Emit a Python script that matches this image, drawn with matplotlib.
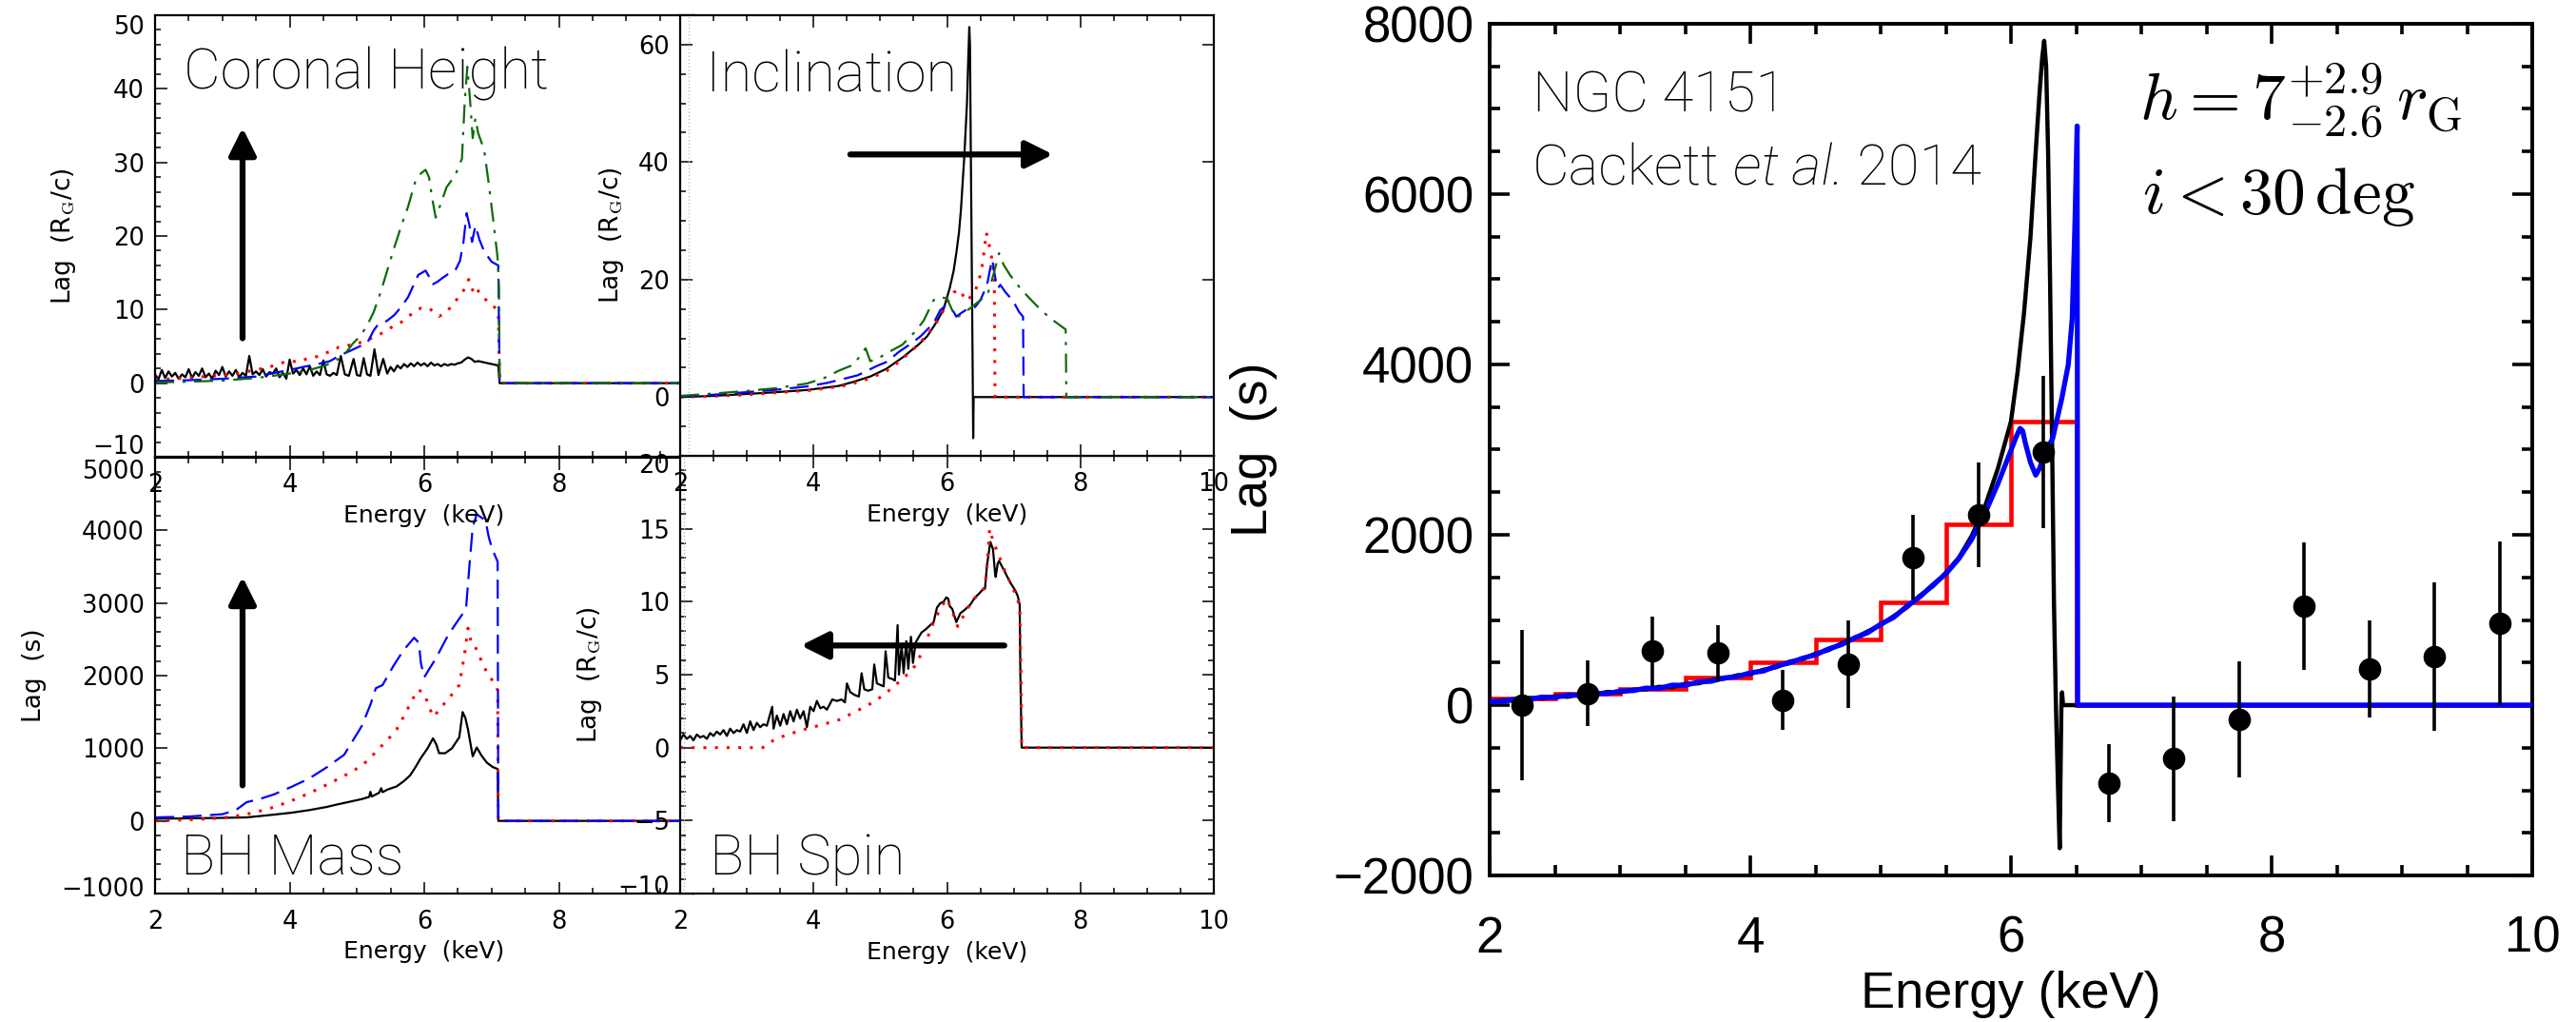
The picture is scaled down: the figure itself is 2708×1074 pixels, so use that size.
import matplotlib.pyplot as plt
import matplotlib.transforms as mtransforms
from matplotlib.ticker import MultipleLocator

plt.rcParams['mathtext.fontset'] = 'cm'

W, H = 2708, 1074

# ---------------- left: Coronal Height (lag in R_G/c) ----------------
tl_black_e = [2.00, 2.05, 2.10, 2.15, 2.20, 2.25, 2.30, 2.35, 2.40, 2.45, 2.50, 2.55, 2.60, 2.65,
              2.70, 2.75, 2.80, 2.85, 2.90, 2.95, 3.00, 3.05, 3.10, 3.15, 3.20, 3.25, 3.30, 3.35,
              3.40, 3.45, 3.50, 3.55, 3.60, 3.65, 3.70, 3.75, 3.80, 3.85, 3.90, 3.95, 4.00, 4.05,
              4.10, 4.15, 4.20, 4.25, 4.30, 4.35, 4.40, 4.45, 4.50, 4.55, 4.60, 4.65, 4.70, 4.76,
              4.82, 4.88, 4.95, 5.00, 5.05, 5.10, 5.15, 5.20, 5.26, 5.32, 5.39, 5.45, 5.50, 5.55,
              5.60, 5.65, 5.70, 5.75, 5.80, 5.85, 5.90, 5.95, 6.00, 6.05, 6.10, 6.15, 6.20, 6.25,
              6.30, 6.35, 6.40, 6.45, 6.50, 6.55, 6.60, 6.65, 6.70, 6.75, 6.80, 6.90, 7.00, 7.10,
              7.12, 10.0]
tl_black_lag = [1.2, 0.5, 1.8, 0.7, 1.6, 0.9, 1.4, 0.6, 1.2, 0.8, 1.9, 0.7, 1.5, 1.0,
                2.0, 0.8, 1.3, 0.6, 1.7, 1.1, 2.2, 0.9, 1.6, 1.0, 1.8, 0.8, 1.4, 1.0,
                3.7, 1.2, 1.6, 1.1, 1.9, 0.9, 1.5, 1.3, 2.0, 0.8, 1.4, 0.6, 3.2, 1.3,
                1.8, 1.1, 2.0, 1.2, 2.3, 1.0, 1.6, 1.1, 3.1, 1.2, 1.0, 1.4, 1.1, 3.7,
                1.2, 1.0, 3.3, 1.1, 1.0, 3.4, 1.2, 1.0, 4.6, 1.1, 3.3, 1.3, 2.2, 1.6,
                2.4, 2.0, 2.6, 2.2, 2.7, 2.3, 2.8, 2.4, 2.7, 2.3, 2.8, 2.4, 2.6, 2.3,
                2.6, 2.4, 2.6, 2.5, 2.7, 2.8, 3.2, 3.5, 3.3, 2.9, 3.0, 2.8, 2.6, 2.4,
                0.0, 0.0]
tl_red_e = [2.0, 2.3, 2.6, 2.9, 3.2, 3.5, 3.7, 3.9, 4.0, 4.15, 4.27, 4.4, 4.53, 4.65, 4.73, 4.85,
            4.95, 5.04, 5.15, 5.25, 5.35, 5.45, 5.55, 5.66, 5.76, 5.86, 5.95, 6.07, 6.15, 6.22,
            6.3, 6.38, 6.45, 6.53, 6.6, 6.66, 6.7, 6.74, 6.78, 6.84, 6.92, 7.0, 7.1, 7.12, 10.0]
tl_red_lag = [0.5, 0.6, 0.8, 1.0, 1.3, 1.8, 2.2, 2.8, 3.0, 2.9, 3.4, 3.6, 4.1, 4.4, 4.9, 5.0,
              5.5, 5.5, 5.8, 6.3, 6.7, 7.2, 7.8, 8.3, 9.0, 9.8, 10.2, 10.2, 9.6, 9.1,
              9.4, 10.2, 11.0, 11.9, 12.8, 14.1, 13.0, 12.3, 12.9, 11.9, 11.3, 10.8, 9.7, 0.0, 0.0]
tl_blue_e = [2.0, 2.5, 3.0, 3.5, 4.0, 4.2, 4.42, 4.6, 4.73, 4.9, 5.04, 5.15, 5.25, 5.3, 5.35,
             5.45, 5.56, 5.66, 5.76, 5.85, 5.91, 6.02, 6.07, 6.12, 6.2, 6.27, 6.35, 6.4, 6.47,
             6.53, 6.58, 6.63, 6.67, 6.71, 6.76, 6.82, 6.89, 7.0, 7.1, 7.12, 10.0]
tl_blue_lag = [0.3, 0.4, 0.6, 0.9, 1.8, 2.2, 2.6, 3.0, 3.7, 4.4, 5.0, 5.4, 7.2, 7.8, 8.0,
               8.5, 9.3, 10.4, 11.7, 13.5, 14.7, 15.3, 14.5, 13.4, 13.8, 14.3, 14.8, 14.9, 15.5,
               16.6, 19.0, 23.1, 21.5, 19.2, 21.4, 19.5, 17.9, 16.5, 16.0, 0.0, 0.0]
tl_green_e = [2.0, 2.5, 3.0, 3.5, 4.0, 4.3, 4.53, 4.73, 4.85, 4.94, 5.04, 5.15, 5.25, 5.35, 5.45,
              5.56, 5.66, 5.76, 5.86, 5.95, 6.02, 6.07, 6.12, 6.17, 6.25, 6.33, 6.4, 6.48, 6.56,
              6.6, 6.64, 6.68, 6.72, 6.76, 6.8, 6.89, 6.96, 7.04, 7.09, 7.11, 7.12, 10.0]
tl_green_lag = [0.1, 0.2, 0.35, 0.7, 1.3, 1.8, 2.4, 3.3, 4.3, 5.4, 6.3, 7.8, 9.7, 12.3, 15.3,
                18.6, 21.4, 24.0, 27.2, 28.5, 29.0, 28.0, 25.0, 22.5, 24.5, 26.6, 27.5, 28.7, 30.5,
                38.0, 43.0, 38.5, 33.3, 36.0, 34.0, 31.7, 27.0, 21.0, 17.0, 13.0, 0.0, 0.0]

# ---------------- left: Inclination (lag in R_G/c) ----------------
tr_black_e = [2.0, 2.5, 2.95, 3.4, 3.9, 4.38, 4.6, 4.85, 5.09, 5.33, 5.57, 5.7, 5.8, 5.88, 5.95,
              6.04, 6.1, 6.14, 6.18, 6.21, 6.26, 6.3, 6.32, 6.335, 6.345, 6.355, 6.37, 6.385,
              6.393, 6.4, 10.0]
tr_black_lag = [0.0, 0.2, 0.5, 0.8, 1.2, 1.9, 2.6, 3.5, 4.8, 6.7, 8.9, 10.3, 12.0, 13.5, 15.0,
                18.5, 21.5, 24.5, 28.0, 32.0, 41.0, 50.0, 58.0, 63.0, 60.0, 45.0, 25.0, 5.0,
                -7.0, 0.0, 0.0]
tr_red_e = [2.0, 2.5, 3.0, 3.5, 4.0, 4.5, 4.85, 5.1, 5.3, 5.5, 5.7, 5.8, 5.9, 6.0, 6.04, 6.1,
            6.18, 6.23, 6.28, 6.35, 6.42, 6.47, 6.52, 6.56, 6.59, 6.62, 6.66, 6.69, 6.71, 6.72, 10.0]
tr_red_lag = [0.0, 0.15, 0.4, 0.8, 1.2, 2.0, 3.2, 4.5, 6.2, 8.2, 10.5, 12.0, 13.7, 16.0, 16.9, 17.8,
              18.3, 17.5, 16.4, 17.0, 18.0, 19.5, 21.8, 25.0, 28.0, 26.5, 24.5, 22.0, 19.6, 0.0, 0.0]
tr_blue_e = [2.0, 2.5, 2.95, 3.4, 3.9, 4.2, 4.38, 4.66, 4.95, 5.1, 5.28, 5.45, 5.61, 5.8, 5.9,
             5.97, 6.04, 6.1, 6.14, 6.2, 6.28, 6.35, 6.42, 6.5, 6.56, 6.61, 6.65, 6.68, 6.72,
             6.76, 6.8, 6.88, 6.99, 7.08, 7.14, 7.15, 10.0]
tr_blue_lag = [0.1, 0.4, 0.8, 1.2, 1.8, 2.4, 2.9, 3.7, 5.3, 6.0, 7.7, 9.0, 10.4, 12.6, 14.8,
               15.5, 15.3, 14.5, 13.7, 14.2, 14.8, 15.0, 15.3, 16.5, 18.0, 19.6, 22.0, 23.4, 20.5,
               18.5, 19.1, 17.8, 16.4, 14.5, 13.7, 0.0, 0.0]
tr_green_e = [2.0, 2.5, 2.95, 3.43, 3.9, 4.15, 4.38, 4.6, 4.78, 4.85, 5.0, 5.15, 5.33, 5.52, 5.65,
              5.8, 5.9, 6.0, 6.07, 6.14, 6.25, 6.37, 6.5, 6.61, 6.7, 6.78, 6.85, 6.95, 7.1, 7.23,
              7.35, 7.47, 7.6, 7.78, 7.79, 10.0]
tr_green_lag = [0.2, 0.6, 1.0, 1.5, 2.3, 3.2, 4.5, 5.5, 8.3, 6.1, 6.8, 7.8, 8.9, 11.1, 13.0,
                16.5, 17.0, 16.8, 15.0, 13.5, 14.3, 15.3, 16.5, 17.5, 21.0, 24.5, 22.5, 20.7, 18.5,
                16.9, 15.5, 14.2, 13.0, 11.5, 0.0, 0.0]

# ---------------- left: BH Mass (lag in s) ----------------
bl_black_e = [2.0, 2.5, 3.0, 3.36, 3.7, 4.03, 4.3, 4.55, 4.7, 4.86, 5.07, 5.18, 5.2, 5.22, 5.33,
              5.36, 5.38, 5.45, 5.59, 5.7, 5.79, 5.87, 5.95, 6.05, 6.13, 6.18, 6.22, 6.31, 6.41,
              6.52, 6.57, 6.61, 6.65, 6.72, 6.78, 6.85, 6.93, 7.02, 7.09, 7.1, 10.0]
bl_black_lag = [30, 35, 42, 48, 80, 113, 150, 192, 225, 257, 300, 330, 400, 335, 388,
                450, 395, 430, 475, 550, 627, 740, 867, 1000, 1137, 1050, 932, 932, 998,
                1150, 1499, 1420, 1259, 889, 1011, 900, 802, 740, 715, 0, 0]
bl_red_e = [2.0, 2.6, 3.0, 3.31, 3.52, 3.77, 4.03, 4.29, 4.55, 4.81, 5.07, 5.2, 5.33, 5.46, 5.59,
            5.69, 5.79, 5.9, 5.97, 6.02, 6.13, 6.22, 6.31, 6.42, 6.52, 6.6, 6.65, 6.7, 6.74, 6.8,
            6.93, 7.06, 7.09, 7.1, 10.0]
bl_red_lag = [0, 20, 40, 83, 126, 190, 279, 380, 497, 620, 758, 870, 998, 1120, 1259,
              1430, 1608, 1804, 1780, 1700, 1434, 1520, 1630, 1750, 1870, 2300, 2653, 2450, 2435, 2304,
              2043, 1870, 1800, 0, 0]
bl_blue_e = [2.0, 2.5, 3.0, 3.2, 3.36, 3.55, 3.77, 4.03, 4.29, 4.55, 4.81, 5.07, 5.2, 5.28, 5.38,
             5.54, 5.69, 5.85, 5.92, 5.95, 6.0, 6.08, 6.16, 6.36, 6.52, 6.62, 6.67, 6.72, 6.78,
             6.91, 6.96, 7.01, 7.09, 7.1, 10.0]
bl_blue_lag = [48, 60, 92, 148, 257, 300, 366, 470, 584, 737, 911, 1303, 1600, 1826, 1870,
               2131, 2348, 2522, 2450, 2174, 1978, 2100, 2217, 2566, 2784, 2915, 3500, 4047, 4222,
               4135, 3900, 3743, 3569, 0, 0]

# ---------------- left: BH Spin (lag in R_G/c) ----------------
br_black_e = [2.00, 2.05, 2.10, 2.15, 2.20, 2.25, 2.30, 2.35, 2.40, 2.45, 2.50, 2.55, 2.60, 2.65,
              2.70, 2.75, 2.80, 2.85, 2.90, 2.95, 3.00, 3.05, 3.10, 3.15, 3.20, 3.25, 3.30, 3.38,
              3.40, 3.45, 3.50, 3.55, 3.60, 3.65, 3.70, 3.75, 3.80, 3.85, 3.90, 3.95, 4.00, 4.05,
              4.10, 4.15, 4.20, 4.28, 4.35, 4.42, 4.47, 4.50, 4.55, 4.62, 4.68, 4.72, 4.76, 4.82,
              4.88, 4.91, 4.95, 5.00, 5.05, 5.08, 5.12, 5.18, 5.22, 5.26, 5.28, 5.32, 5.35, 5.39,
              5.42, 5.46, 5.49, 5.53, 5.58, 5.62, 5.68, 5.75, 5.80, 5.85, 5.90, 5.95, 5.99, 6.02,
              6.04, 6.08, 6.14, 6.20, 6.28, 6.35, 6.42, 6.47, 6.53, 6.57, 6.60, 6.65, 6.69, 6.72,
              6.73, 6.76, 6.78, 6.85, 6.95, 7.02, 7.06, 7.09, 7.10, 7.12, 10.0]
br_black_lag = [0.5, 0.9, 0.6, 0.8, 0.5, 0.9, 0.7, 0.8, 0.6, 1.0, 0.8, 1.1, 0.9, 1.2,
                0.8, 1.3, 1.0, 1.2, 1.1, 1.6, 1.0, 1.8, 1.2, 1.7, 1.4, 1.6, 1.5, 2.8,
                1.3, 2.2, 1.5, 2.3, 1.6, 2.5, 1.8, 2.6, 2.0, 2.5, 1.4, 2.8, 2.5, 3.2,
                2.7, 2.8, 2.6, 3.3, 3.2, 3.3, 3.1, 4.4, 3.8, 3.6, 3.5, 5.1, 4.0, 3.9,
                4.0, 5.7, 4.4, 4.3, 4.2, 6.6, 4.8, 4.7, 4.6, 8.4, 5.0, 7.0, 5.1, 7.3,
                5.4, 7.6, 5.8, 7.2, 7.6, 7.9, 8.1, 8.4, 8.6, 9.6, 9.9, 10.0, 10.3, 10.2,
                9.7, 9.5, 8.6, 9.2, 9.5, 9.8, 10.3, 10.5, 10.8, 10.9, 12.5, 14.1, 13.6, 12.0,
                11.7, 12.6, 12.8, 12.2, 11.3, 10.8, 10.4, 9.8, 5.0, 0.0, 0.0]
br_red_e = [2.0, 3.24, 3.43, 3.65, 3.9, 4.15, 4.38, 4.6, 4.85, 5.05, 5.23, 5.38, 5.52, 5.6, 5.66,
            5.73, 5.8, 5.9, 5.99, 6.06, 6.16, 6.27, 6.37, 6.47, 6.57, 6.61, 6.64, 6.7, 6.76,
            6.85, 6.95, 7.03, 7.09, 7.11, 7.12, 10.0]
br_red_lag = [0.0, 0.0, 0.6, 0.95, 1.3, 1.6, 1.9, 2.4, 3.0, 3.6, 4.3, 4.9, 5.6, 6.3, 6.9,
              7.8, 8.6, 9.5, 10.2, 9.6, 8.3, 9.2, 10.0, 10.5, 11.0, 13.0, 15.0, 14.0, 13.4,
              12.3, 11.3, 10.5, 9.7, 5.0, 0.0, 0.0]

# ---------------- right: NGC 4151 ----------------
ngc_black_e = [2.0, 2.1, 2.2, 2.3, 2.4, 2.5, 2.6, 2.7, 2.8, 2.9, 3.0, 3.1, 3.2, 3.3, 3.4, 3.5,
               3.6, 3.7, 3.8, 3.9, 4.0, 4.1, 4.2, 4.3, 4.4, 4.5, 4.6, 4.7, 4.8, 4.9, 5.0, 5.1,
               5.2, 5.3, 5.4, 5.5, 5.6, 5.7, 5.8, 5.9, 6.0, 6.05, 6.1, 6.15, 6.19, 6.22, 6.24,
               6.255, 6.27, 6.285, 6.3, 6.317, 6.33, 6.345, 6.36, 6.374, 6.382, 6.387, 6.392,
               6.4, 10.0]
ngc_black_lag = [36, 58, 50, 85, 78, 105, 98, 130, 120, 155, 150, 180, 185, 215, 210, 250,
                 255, 295, 310, 350, 365, 415, 445, 510, 540, 605, 645, 725, 785, 865, 940, 1045,
                 1145, 1285, 1395, 1555, 1730, 1990, 2330, 2780, 3330, 3900, 4600, 5500, 6500, 7200, 7600,
                 7800, 7500, 6500, 5000, 2926, 1200, 0, -900, -1680, -600, 0, 150,
                 0, 0]
ngc_blue_e = [2.0, 2.1, 2.2, 2.3, 2.4, 2.5, 2.6, 2.7, 2.8, 2.9, 3.0, 3.1, 3.2, 3.3, 3.4, 3.5,
              3.6, 3.7, 3.8, 3.9, 4.0, 4.1, 4.2, 4.3, 4.4, 4.5, 4.6, 4.7, 4.8, 4.9, 5.0, 5.1,
              5.2, 5.3, 5.4, 5.5, 5.6, 5.7, 5.8, 5.9, 6.0, 6.04, 6.07, 6.09, 6.11, 6.15, 6.19,
              6.22, 6.26, 6.32, 6.39, 6.44, 6.47, 6.49, 6.508, 6.512, 10.0]
ngc_blue_lag = [40, 45, 70, 65, 95, 90, 120, 112, 140, 135, 165, 170, 200, 195, 235, 232,
                272, 280, 320, 335, 380, 400, 460, 495, 550, 590, 660, 710, 790, 850, 950, 1030,
                1160, 1270, 1410, 1540, 1720, 1950, 2250, 2600, 2990, 3150, 3250, 3220, 3080, 2850, 2700,
                2780, 2960, 3130, 3600, 4000, 4540, 5600, 6800, 0, 0]
ngc_bin_edges = [2.0, 2.5, 3.0, 3.5, 4.0, 4.5, 5.0, 5.5, 6.0, 6.5, 10.0]
ngc_bin_lag = [73, 129, 185, 319, 502, 770, 1210, 2124, 3329, 0]
ngc_pt_e = [2.25, 2.75, 3.25, 3.75, 4.25, 4.75, 5.25, 5.75, 6.25, 6.75, 7.25, 7.75, 8.25, 8.75,
            9.25, 9.75]
ngc_pt_lag = [0, 137, 632, 611, 60, 482, 1736, 2236, 2969, -919, -631, -170, 1160, 430, 572, 962]
ngc_pt_err = [880, 385, 405, 330, 355, 510, 496, 612, 895, 460, 730, 680, 750, 570, 870, 960]

fig = plt.figure(figsize=(W / 100, H / 100), dpi=100)


def rect(x0, y0, x1, y1):
    return [x0 / W, 1 - y1 / H, (x1 - x0) / W, (y1 - y0) / H]


small_font = 'DejaVu Sans'
big_font = ['Roboto', 'DejaVu Sans']


def style_small(ax, ylim, yticks, ymin, ylabel, ylab_x, show10):
    ax.set_xlim(2, 10)
    ax.set_ylim(*ylim)
    ax.xaxis.set_minor_locator(MultipleLocator(0.5))
    ax.set_yticks(yticks)
    ax.yaxis.set_minor_locator(MultipleLocator(ymin))
    ax.tick_params(which='both', direction='in', top=True, right=True, width=1.1,
                   labelsize=18.5)
    ax.tick_params(which='major', length=9)
    ax.tick_params(which='minor', length=4.5)
    ax.tick_params(axis='x', pad=12)
    ax.tick_params(axis='y', pad=8)
    ax.set_xticks([2, 4, 6, 8, 10])
    ax.set_xticklabels(['2', '4', '6', '8', '10' if show10 else ''])
    for s in ax.spines.values():
        s.set_linewidth(1.6)
    ax.set_xlabel('Energy  (keV)', fontsize=18, family=small_font)
    ax.xaxis.set_label_coords(0.5, -0.108)
    ax.set_ylabel(ylabel, fontsize=19, family=small_font, va='center')
    ax.yaxis.set_label_coords(ylab_x, 0.5)


def nudge_end_labels(ax, shift_bottom, shift_top):
    # IDL keeps the end labels inside the frame height
    labels = ax.get_yticklabels()
    if shift_bottom:
        off = mtransforms.ScaledTranslation(0, shift_bottom / 100, fig.dpi_scale_trans)
        labels[0].set_transform(labels[0].get_transform() + off)
    if shift_top:
        off = mtransforms.ScaledTranslation(0, -shift_top / 100, fig.dpi_scale_trans)
        labels[-1].set_transform(labels[-1].get_transform() + off)


def big_label(ax, x, y, s):
    ax.text(x, y, s, transform=ax.transAxes, fontsize=43, family=big_font,
            fontweight='light', va='baseline', ha='left')


def arrow(ax, start, end):
    ax.annotate('', xy=end, xytext=start,
                arrowprops=dict(arrowstyle='-|>,head_length=0.4,head_width=0.2',
                                lw=4.5, color='black', mutation_scale=43,
                                shrinkA=0, shrinkB=0))


rg_label = 'Lag  (R$_{\\rm G}$/c)'
lw_small = 1.6

# bottom-left: BH Mass
ax_bl = fig.add_axes(rect(163, 481, 729, 939))
ax_bl.plot(bl_black_e, bl_black_lag, color='black', lw=lw_small)
ax_bl.plot(bl_red_e, bl_red_lag, color='red', lw=lw_small + 0.6, ls=(0, (1, 3)))
ax_bl.plot(bl_blue_e, bl_blue_lag, color='blue', lw=lw_small, ls=(0, (9, 4)))
style_small(ax_bl, (-1000, 5000), [-1000, 0, 1000, 2000, 3000, 4000, 5000], 200,
            'Lag  (s)', -0.224, False)
big_label(ax_bl, 0.048, 0.044, 'BH Mass')
arrow(ax_bl, (3.3, 489), (3.3, 3360))

# top-left: Coronal Height
ax_tl = fig.add_axes(rect(163, 16, 729, 480))
ax_tl.plot(tl_black_e, tl_black_lag, color='black', lw=lw_small)
ax_tl.plot(tl_red_e, tl_red_lag, color='red', lw=lw_small + 0.6, ls=(0, (1, 3)))
ax_tl.plot(tl_blue_e, tl_blue_lag, color='blue', lw=lw_small, ls=(0, (9, 4)))
ax_tl.plot(tl_green_e, tl_green_lag, color='#0b6b0b', lw=lw_small, ls=(0, (9, 4, 1.5, 4)))
style_small(ax_tl, (-10, 50), [-10, 0, 10, 20, 30, 40, 50], 2, rg_label, -0.170, False)
big_label(ax_tl, 0.053, 0.834, 'Coronal Height')
arrow(ax_tl, (3.3, 6.1), (3.3, 34.7))

# bottom-right: BH Spin
ax_br = fig.add_axes(rect(715, 479, 1276, 939))
ax_br.axvline(2.05, color='0.75', ls=':', lw=1)
ax_br.plot(br_black_e, br_black_lag, color='black', lw=lw_small)
ax_br.plot(br_red_e, br_red_lag, color='red', lw=lw_small + 0.6, ls=(0, (1, 3)))
style_small(ax_br, (-10, 20), [-10, -5, 0, 5, 10, 15, 20], 1, rg_label, -0.169, True)
big_label(ax_br, 0.055, 0.043, 'BH Spin')
arrow(ax_br, (6.86, 7.0), (3.81, 7.0))

# top-right: Inclination
ax_tr = fig.add_axes(rect(715, 16, 1276, 479))
ax_tr.axvline(2.13, color='0.75', ls=':', lw=1)
ax_tr.plot(tr_black_e, tr_black_lag, color='black', lw=lw_small)
ax_tr.plot(tr_red_e, tr_red_lag, color='red', lw=lw_small + 0.6, ls=(0, (1, 3)))
ax_tr.plot(tr_blue_e, tr_blue_lag, color='blue', lw=lw_small, ls=(0, (9, 4)))
ax_tr.plot(tr_green_e, tr_green_lag, color='#0b6b0b', lw=lw_small, ls=(0, (9, 4, 1.5, 4)))
style_small(ax_tr, (-10, 65), [0, 20, 40, 60], 5, rg_label, -0.128, True)
ax_tr.tick_params(which='minor', right=False)
big_label(ax_tr, 0.048, 0.827, 'Inclination')
arrow(ax_tr, (4.55, 41.3), (7.59, 41.3))

nudge_end_labels(ax_tl, 13, 10)
nudge_end_labels(ax_bl, 7, 12)
nudge_end_labels(ax_br, 9, 8)

# right: NGC 4151 data and models
ax = fig.add_axes(rect(1566, 25, 2662, 920))
ax.stairs(ngc_bin_lag, ngc_bin_edges, baseline=None, color='red', lw=3.3, zorder=2)
ax.plot(ngc_black_e, ngc_black_lag, color='black', lw=3.2, zorder=3)
ax.plot(ngc_blue_e, ngc_blue_lag, color='blue', lw=3.8, zorder=4)
ax.errorbar(ngc_pt_e, ngc_pt_lag, yerr=ngc_pt_err, fmt='o', color='black', ms=16,
            elinewidth=2.6, capsize=0, zorder=5)
ax.set_xlim(2, 10)
ax.set_ylim(-2000, 8000)
ax.xaxis.set_major_locator(MultipleLocator(2))
ax.xaxis.set_minor_locator(MultipleLocator(0.5))
ax.yaxis.set_major_locator(MultipleLocator(2000))
ax.yaxis.set_minor_locator(MultipleLocator(500))
ax.tick_params(which='both', direction='in', top=True, right=True, width=2.6, labelsize=38)
ax.tick_params(which='major', length=15)
ax.tick_params(which='minor', length=8)
ax.tick_params(axis='x', pad=30)
ax.tick_params(axis='y', pad=12)
for lab in ax.get_xticklabels() + ax.get_yticklabels():
    lab.set_family('Liberation Sans')
for s in ax.spines.values():
    s.set_linewidth(2.8)
ax.set_xlabel('Energy (keV)', fontsize=39, family='Liberation Sans')
ax.xaxis.set_label_coords(0.5, -0.112)
ax.set_ylabel('Lag  (s)', fontsize=39, family='Liberation Sans', va='center')
ax.yaxis.set_label_coords(-0.226, 0.5)

ax.text(0.041, 0.897, 'NGC 4151', transform=ax.transAxes, fontsize=43, family=big_font,
        fontweight='light', va='baseline')
t1 = ax.text(0.041, 0.8105, 'Cackett', transform=ax.transAxes, fontsize=43,
             family=big_font, fontweight='light', va='baseline')
t2 = ax.annotate(' et al.', xy=(1, 0), xycoords=t1, va='bottom', fontsize=43,
                 family=big_font, fontweight='light', style='italic')
ax.annotate(' 2014', xy=(1, 0), xycoords=t2, va='bottom', fontsize=43,
            family=big_font, fontweight='light')
ax.text(0.623, 0.887, r'$h = 7^{+2.9}_{-2.6}\,r_{\rm G}$', transform=ax.transAxes,
        fontsize=50, va='baseline')
ax.text(0.626, 0.778, r'$i < 30\,{\rm deg}$', transform=ax.transAxes,
        fontsize=50, va='baseline')

fig.savefig('out.png', dpi=100)
